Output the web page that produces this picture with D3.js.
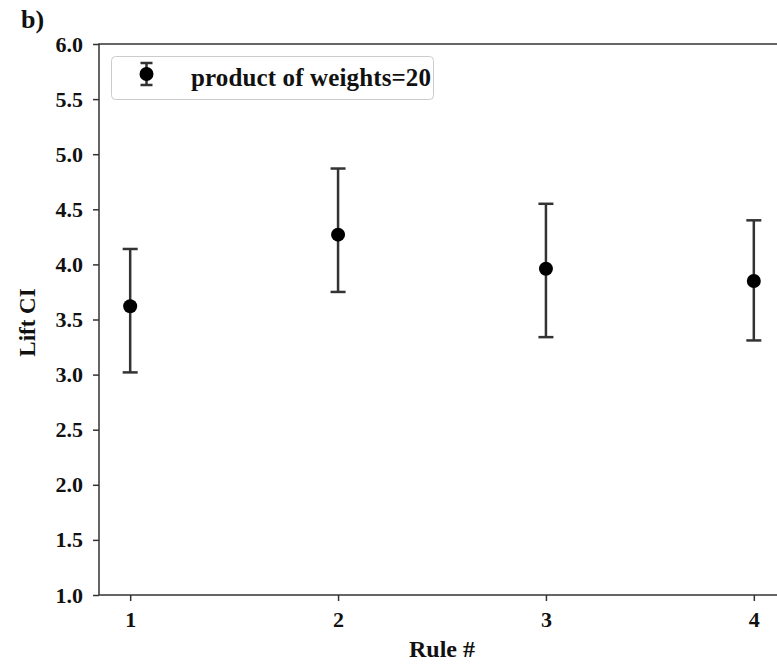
<!DOCTYPE html>
<html>
<head>
<meta charset="utf-8">
<script src="https://cdn.jsdelivr.net/npm/d3@7"></script>
<style>
  body { margin: 0; background: #fff; }
  svg text { font-family: "Liberation Serif", "Times New Roman", serif; font-weight: bold; fill: #111; }
</style>
</head>
<body>
<div id="chart"></div>
<script>
// data
const rules = [1, 2, 3, 4];
const lift = [3.62, 4.27, 3.96, 3.85];
const lower = [3.02, 3.75, 3.34, 3.31];
const upper = [4.14, 4.87, 4.55, 4.40];
const yTicks = [1.0, 1.5, 2.0, 2.5, 3.0, 3.5, 4.0, 4.5, 5.0, 5.5, 6.0];
const seriesName = "product of weights=20";

const w = 777, h = 665;
const margin = { left: 99, top: 44, bottom: 70 };
const plotRight = 785; // right spine falls just outside the window

const svg = d3.select("#chart").append("svg")
    .attr("width", w)
    .attr("height", h);

//scales
const x = d3.scaleLinear().domain([0.85, 4.15]).range([margin.left, plotRight]);
const y = d3.scaleLinear().domain([1, 6]).range([h - margin.bottom, margin.top]);

const lineCol = "#333";

//axes
const xAxis = d3.axisBottom(x).tickValues(rules).tickFormat(d3.format("d")).tickSize(6).tickPadding(10);
const yAxis = d3.axisLeft(y).tickValues(yTicks).tickFormat(d3.format(".1f")).tickSize(6).tickPadding(10);

const xg = svg.append("g")
    .attr("transform", `translate(0,${y(1)})`)
    .call(xAxis);
const yg = svg.append("g")
    .attr("transform", `translate(${margin.left},0)`)
    .call(yAxis);

[xg, yg].forEach(g => {
    g.select(".domain").remove();
    g.selectAll(".tick line").attr("stroke", lineCol).attr("stroke-width", 1.5);
    g.selectAll(".tick text").attr("font-size", 22).attr("fill", "#111");
});

//spines
const frame = svg.append("g").attr("stroke", lineCol).attr("stroke-width", 1.5).attr("fill", "none");
frame.append("rect")
    .attr("x", margin.left)
    .attr("y", y(6))
    .attr("width", plotRight - margin.left)
    .attr("height", y(1) - y(6));

//error bars
const bars = svg.append("g");
const capW = 7.5;
rules.forEach((r, i) => {
    const g = bars.append("g").attr("stroke", lineCol).attr("stroke-width", 2.5);
    g.append("line")
        .attr("x1", x(r)).attr("x2", x(r))
        .attr("y1", y(lower[i])).attr("y2", y(upper[i]));
    g.append("line")
        .attr("x1", x(r) - capW).attr("x2", x(r) + capW)
        .attr("y1", y(upper[i])).attr("y2", y(upper[i]));
    g.append("line")
        .attr("x1", x(r) - capW).attr("x2", x(r) + capW)
        .attr("y1", y(lower[i])).attr("y2", y(lower[i]));
});
bars.selectAll("circle")
    .data(rules)
    .enter()
    .append("circle")
    .attr("cx", d => x(d))
    .attr("cy", (d, i) => y(lift[i]))
    .attr("r", 7)
    .attr("fill", "#000");

//legend
const leg = svg.append("g");
leg.append("rect")
    .attr("x", 111.5).attr("y", 56.5)
    .attr("width", 322).attr("height", 43)
    .attr("rx", 4)
    .attr("fill", "#fff")
    .attr("stroke", "#ccc")
    .attr("stroke-width", 1);
const lx = 146.5, ly = 78;
leg.append("line").attr("x1", lx).attr("x2", lx).attr("y1", ly - 15).attr("y2", ly + 7)
    .attr("stroke", lineCol).attr("stroke-width", 2.5);
leg.append("line").attr("x1", lx - 6).attr("x2", lx + 6).attr("y1", ly - 15).attr("y2", ly - 15)
    .attr("stroke", lineCol).attr("stroke-width", 2.5);
leg.append("line").attr("x1", lx - 6).attr("x2", lx + 6).attr("y1", ly + 7).attr("y2", ly + 7)
    .attr("stroke", lineCol).attr("stroke-width", 2.5);
leg.append("circle").attr("cx", lx).attr("cy", ly - 4).attr("r", 7).attr("fill", "#000");
leg.append("text")
    .text(seriesName)
    .attr("x", 191)
    .attr("y", 86)
    .attr("font-size", 25)
    .attr("textLength", 240);

//axis labels
svg.append("text")
    .text("Rule #")
    .attr("x", (margin.left + plotRight) / 2)
    .attr("y", 657)
    .attr("text-anchor", "middle")
    .attr("font-size", 24);
svg.append("text")
    .text("Lift CI")
    .attr("transform", `translate(35,${(y(1) + y(6)) / 2 + 3}) rotate(-90)`)
    .attr("text-anchor", "middle")
    .attr("font-size", 23);

//panel tag
svg.append("text")
    .text("b)")
    .attr("x", 21)
    .attr("y", 28)
    .attr("font-size", 26);
</script>
</body>
</html>
